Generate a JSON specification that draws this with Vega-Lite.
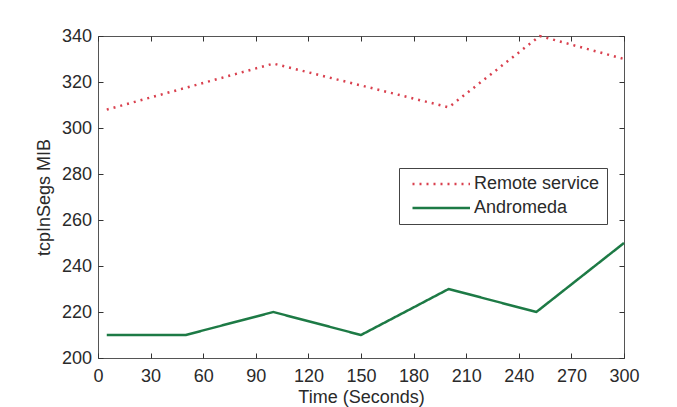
{
  "$schema": "https://vega.github.io/schema/vega-lite/v6.json",
  "width": 526,
  "height": 322,
  "autosize": "none",
  "padding": {"left": 98, "top": 36, "right": 53, "bottom": 49},
  "background": "white",
  "config": {
    "view": {"stroke": "#555555", "strokeWidth": 1},
    "font": "Liberation Sans",
    "axis": {
      "domain": false,
      "grid": false,
      "offset": -5,
      "tickSize": 5,
      "tickColor": "#333333",
      "tickWidth": 1,
      "labelFont": "Liberation Sans",
      "labelFontSize": 18,
      "labelColor": "#2a2a2a",
      "titleFont": "Liberation Sans",
      "titleFontSize": 18,
      "titleFontWeight": "normal",
      "titleColor": "#2a2a2a"
    }
  },
  "data": {
    "values": [
      {"t": 5, "v": 308, "series": "Remote service"},
      {"t": 100, "v": 328, "series": "Remote service"},
      {"t": 200, "v": 309, "series": "Remote service"},
      {"t": 252, "v": 340, "series": "Remote service"},
      {"t": 300, "v": 330, "series": "Remote service"},
      {"t": 5, "v": 210, "series": "Andromeda"},
      {"t": 50, "v": 210, "series": "Andromeda"},
      {"t": 100, "v": 220, "series": "Andromeda"},
      {"t": 150, "v": 210, "series": "Andromeda"},
      {"t": 200, "v": 230, "series": "Andromeda"},
      {"t": 250, "v": 220, "series": "Andromeda"},
      {"t": 300, "v": 250, "series": "Andromeda"}
    ]
  },
  "layer": [
    {
      "mark": {"type": "line", "strokeWidth": 2.5, "clip": false},
      "encoding": {
        "x": {
          "field": "t", "type": "quantitative",
          "scale": {"domain": [0, 300], "nice": false, "zero": false},
          "axis": {"orient": "bottom", "values": [0,30,60,90,120,150,180,210,240,270,300], "title": "Time (Seconds)", "labelPadding": 9, "titlePadding": 3, "labelFlush": false}
        },
        "y": {
          "field": "v", "type": "quantitative",
          "scale": {"domain": [200, 340], "nice": false, "zero": false},
          "axis": {"orient": "left", "values": [200,220,240,260,280,300,320,340], "title": "tcpInSegs MIB", "labelPadding": 6.5, "titlePadding": 8}
        },
        "color": {
          "field": "series", "type": "nominal",
          "scale": {"domain": ["Remote service", "Andromeda"], "range": ["#d9404e", "#1d7a45"]},
          "legend": {
            "title": null,
            "orient": "none",
            "legendX": 301,
            "legendY": 132,
            "direction": "vertical",
            "strokeColor": "#444444",
            "fillColor": "white",
            "padding": 7,
            "rowPadding": 6,
            "cornerRadius": 0,
            "symbolType": "M-1,0H22",
            "symbolSize": 25,
            "symbolStrokeWidth": 2.5,
            "labelFont": "Liberation Sans",
            "labelFontSize": 18,
            "labelColor": "#2a2a2a",
            "labelOffset": 50
          }
        },
        "strokeDash": {
          "field": "series", "type": "nominal",
          "scale": {"domain": ["Remote service", "Andromeda"], "range": [[2, 5], [1, 0]]},
          "legend": null
        }
      }
    },
    {
      "mark": {"type": "point", "opacity": 0},
      "encoding": {
        "x": {
          "field": "t", "type": "quantitative",
          "scale": {"domain": [0, 300], "nice": false, "zero": false},
          "axis": {"orient": "top", "values": [0,30,60,90,120,150,180,210,240,270,300], "labels": false, "title": null}
        },
        "y": {
          "field": "v", "type": "quantitative",
          "scale": {"domain": [200, 340], "nice": false, "zero": false},
          "axis": {"orient": "right", "values": [200,220,240,260,280,300,320,340], "labels": false, "title": null}
        }
      }
    }
  ],
  "resolve": {"axis": {"x": "independent", "y": "independent"}}
}
